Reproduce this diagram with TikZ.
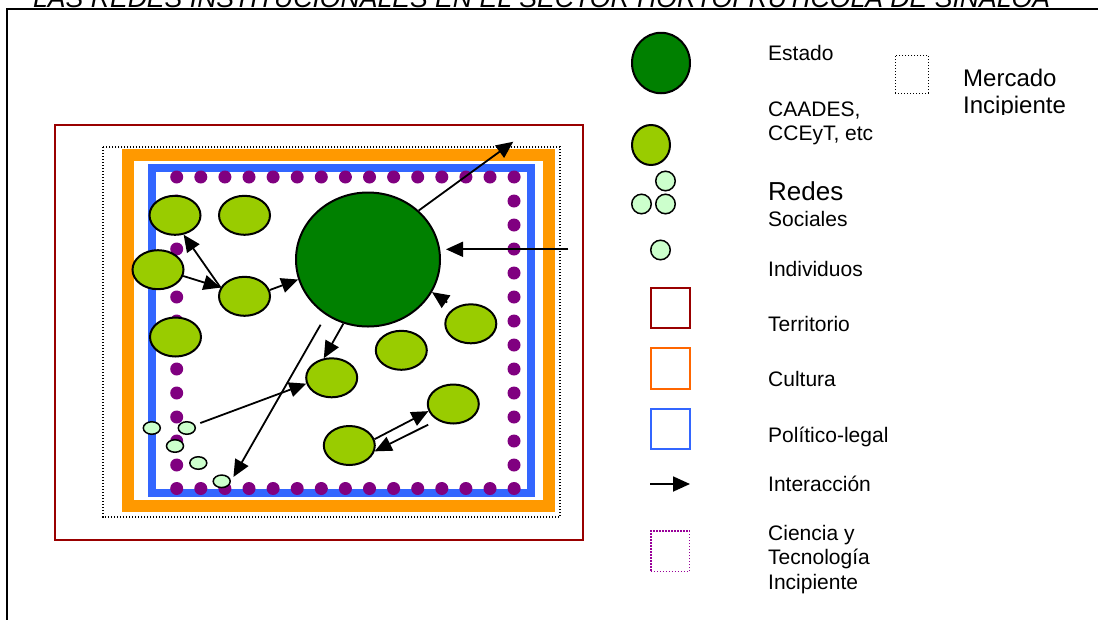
\documentclass[tikz,border=0pt]{standalone}
\usepackage{fontspec}
\setmainfont{Liberation Sans}
\usetikzlibrary{shapes.geometric,arrows.meta}
\definecolor{estadofill}{RGB}{0,128,0}
\definecolor{instfill}{RGB}{153,204,0}
\definecolor{indivfill}{RGB}{204,255,204}
\definecolor{territorio}{RGB}{153,0,0}
\definecolor{cultura}{RGB}{255,153,0}
\definecolor{culturaleg}{RGB}{255,102,0}
\definecolor{politico}{RGB}{51,102,255}
\definecolor{ciencia}{RGB}{128,0,128}
\definecolor{cienciaeg}{RGB}{153,0,153}

\begin{document}
\begin{tikzpicture}[x=1pt,y=-1pt,
    inst/.style={ellipse,draw,line width=2pt,fill=instfill,minimum width=51pt,minimum height=39pt,inner sep=0pt},
    indiv/.style={ellipse,draw,line width=1.5pt,fill=indivfill,minimum width=17pt,minimum height=12.5pt,inner sep=0pt},
    redcirc/.style={circle,draw,line width=1.5pt,fill=indivfill,minimum size=19.5pt,inner sep=0pt},
    arr/.style={line width=1.8pt,-{Triangle[length=17pt,width=15pt]}},
    leg/.style={anchor=base west,inner sep=0pt,align=left,font=\fontsize{21}{24}\selectfont},
    legbox/.style={draw,line width=2pt,minimum width=38.7pt,minimum height=40.3pt,inner sep=0pt},
    dotline/.style={line width=1.2pt,dash pattern=on 1.2pt off 1.8pt}]
  \useasboundingbox (0,0) rectangle (1098,619);

  \node[anchor=base west,inner sep=0pt,font=\fontsize{26.6}{30}\selectfont\itshape] (titulo) at (33,7)
    {LAS REDES INSTITUCIONALES EN EL SECTOR HORTOFRUTICOLA DE SINALOA};
  \draw[line width=2pt] (7,630) -- (7,9) -- (1110,9);

  \draw[territorio,line width=2pt] (55,125) rectangle (583,540);
  \draw[dotline] (103,147) rectangle (560,517);
  \draw[cultura,line width=12pt] (127.5,154.5) rectangle (549,506);
  \draw[politico,line width=8pt] (151.5,168) rectangle (531,492.5);
  \foreach \i in {0,...,14} {
    \fill[ciencia] ({176.7+24.1*\i},177) circle (6.5pt);
    \fill[ciencia] ({176.7+24.1*\i},488.5) circle (6.5pt);
  }
  \foreach \j in {1,...,12} {
    \fill[ciencia] (176.7,{177+24*\j}) circle (6.5pt);
    \fill[ciencia] (514,{177+24*\j}) circle (6.5pt);
  }

  \node[ellipse,draw,line width=2pt,fill=estadofill,minimum width=144pt,minimum height=134pt] (est) at (368,259.5) {};
  \node[inst] (c1) at (175,215.3) {};
  \node[inst] (c2) at (244.5,215.3) {};
  \node[inst] (c3) at (158,269.7) {};
  \node[inst] (c4) at (244.5,296.3) {};
  \node[inst] (c5) at (175.5,337) {};
  \node[inst] (c6) at (470.8,323.8) {};
  \node[inst] (c7) at (401.3,350.3) {};
  \node[inst] (c8) at (331.7,377.8) {};
  \node[inst] (c9) at (453.3,404) {};
  \node[inst] (c10) at (349.3,445.5) {};
  \node[indiv] (ind1) at (151.8,428) {};
  \node[indiv] (ind2) at (186.8,428) {};
  \node[indiv] (ind3) at (175,446) {};
  \node[indiv] (ind4) at (198.3,463) {};
  \node[indiv] (ind5) at (221.7,481.3) {};
  \coordinate (salida) at (513.3,141.7);
  \coordinate (entrada) at (568.3,249.3);

  \draw[arr] (c4.160) -- (c1.-66);
  \draw[arr] (c3.-14) -- (c4.160);
  \draw[arr] (c4.14) -- (est.196);
  \draw[arr] (est.-111) -- (c8.112);
  \draw[arr,shorten <=11pt,shorten >=5pt] (est.-127) -- (ind5.east);
  \draw[arr,shorten <=5.5pt] (ind2.20) -- (c8.193);
  \draw[arr,shorten <=9pt] (c6.135) -- (est.-27);
  \draw[arr] (est.44) -- (salida);
  \draw[arr,shorten >=5pt] (entrada) -- (entrada -| est.east);
  \draw[arr] (c10.14) -- (c9.196);
  \draw[arr,shorten <=10pt] (c9.-135) -- (c10.-13);

  \node[ellipse,draw,line width=2pt,fill=estadofill,minimum width=58pt,minimum height=60.5pt,inner sep=0pt] (legEst) at (661,63) {};
  \node[leg] (txtEst) at (768,60.7) {Estado};
  \node[draw,dotted,line width=1pt,minimum width=33pt,minimum height=38pt,inner sep=0pt] (legMerc) at (911.5,74) {};
  \begin{scope}
    \clip (940,55) rectangle (1098,114);
    \node[leg,font=\fontsize{24}{26.5}\selectfont] (txtMerc) at (963,113) {Mercado\\Incipiente};
  \end{scope}
  \node[inst,minimum width=38pt,minimum height=40pt] (legInst) at (651,145) {};
  \node[leg] (txtInst) at (768,140.7) {CAADES,\\CCEyT, etc};
  \node[redcirc] (legRedA) at (665.5,181) {};
  \node[redcirc] (legRedB) at (641.5,204) {};
  \node[redcirc] (legRedC) at (665.5,204) {};
  \node[leg,font=\fontsize{21}{26.7}\selectfont] (txtRed) at (768,226.7) {{\fontsize{26}{26.7}\selectfont Redes}\\Sociales};
  \node[redcirc] (legInd) at (660.5,250) {};
  \node[leg] (txtInd) at (768,276) {Individuos};
  \node[legbox,draw=territorio] (legTerr) at (670.3,307.8) {};
  \node[leg] (txtTerr) at (768,331) {Territorio};
  \node[legbox,draw=culturaleg] (legCult) at (670.3,368.5) {};
  \node[leg] (txtCult) at (768,386.7) {Cultura};
  \node[legbox,draw=politico] (legPol) at (670.3,429.3) {};
  \node[leg] (txtPol) at (768,442.3) {Político-legal};
  \coordinate (legA) at (650,484);
  \coordinate (legB) at (690,484);
  \draw[arr] (legA) -- (legB);
  \node[leg] (txtInt) at (768,491) {Interacción};
  \node[legbox,draw=cienciaeg,dotline] (legCien) at (670.3,551.2) {};
  \node[leg,font=\fontsize{21}{24.5}\selectfont] (txtCien) at (768,589) {Ciencia y\\Tecnología\\Incipiente};
\end{tikzpicture}
\end{document}
